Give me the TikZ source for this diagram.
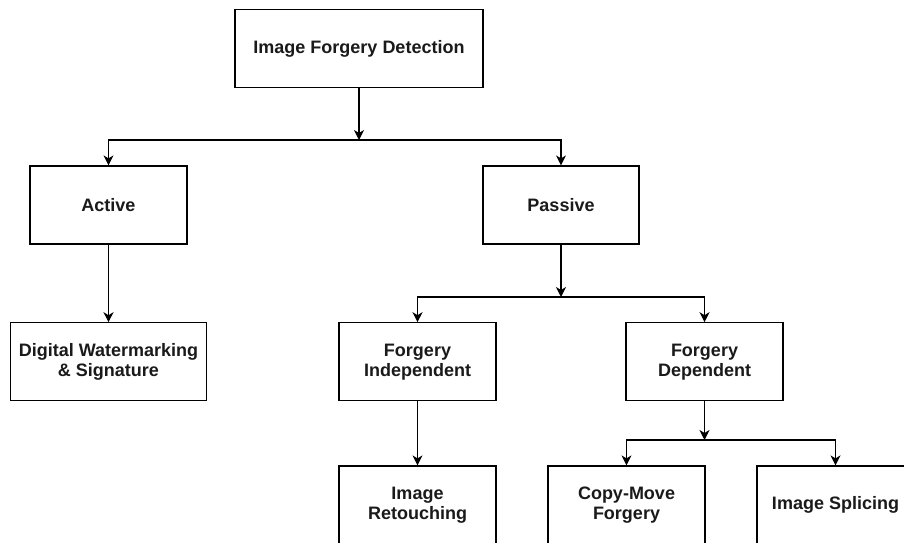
\documentclass[tikz,border=0pt]{standalone}
\usepackage{fontspec}
\setmainfont{Liberation Sans}
\usetikzlibrary{arrows.meta}
\definecolor{txt}{HTML}{1A1A1A}
\tikzset{
  box/.style={draw=black, line width=1.2pt, fill=white, minimum height=78pt, inner sep=2pt,
    align=center, font=\fontsize{18}{20}\selectfont\bfseries, text=txt},
  conn/.style={draw=black, line width=1.2pt, -{Stealth[length=10pt,width=10pt,inset=3pt]}}
}
\begin{document}
\begin{tikzpicture}[x=1pt,y=-1pt]
\useasboundingbox (0,0) rectangle (904,542);
\clip (0,0) rectangle (904,542);
\fill[white] (0,0) rectangle (904,542);
\node[box, minimum width=248pt] (top) at (359,48.7) {Image Forgery Detection};
\node[box, minimum width=157pt] (active) at (108.5,205) {Active};
\node[box, minimum width=156pt] (passive) at (561,205) {Passive};
\node[box, minimum width=196pt] (digital) at (108.5,361.8) {Digital Watermarking\\\& Signature};
\node[box, minimum width=157pt] (fi) at (417.5,361.8) {Forgery\\Independent};
\node[box, minimum width=157pt] (fd) at (704.5,361.8) {Forgery\\Dependent};
\node[box, minimum width=157pt] (ret) at (417.5,505) {Image\\Retouching};
\node[box, minimum width=157pt] (cm) at (626.5,505) {Copy-Move\\Forgery};
\node[box, minimum width=157pt] (spl) at (835.5,505) {Image Splicing};
\coordinate (j1) at (359,140);
\coordinate (j2) at (561,297);
\coordinate (j3) at (704.5,440);
\draw[conn] (top) -- (j1);
\draw[conn] (j1) -| (active);
\draw[conn] (j1) -| (passive);
\draw[conn] (active) -- (digital);
\draw[conn] (passive) -- (j2);
\draw[conn] (j2) -| (fi);
\draw[conn] (j2) -| (fd);
\draw[conn] (fi) -- (ret);
\draw[conn] (fd) -- (j3);
\draw[conn] (j3) -| (cm);
\draw[conn] (j3) -| (spl);
\end{tikzpicture}
\end{document}
